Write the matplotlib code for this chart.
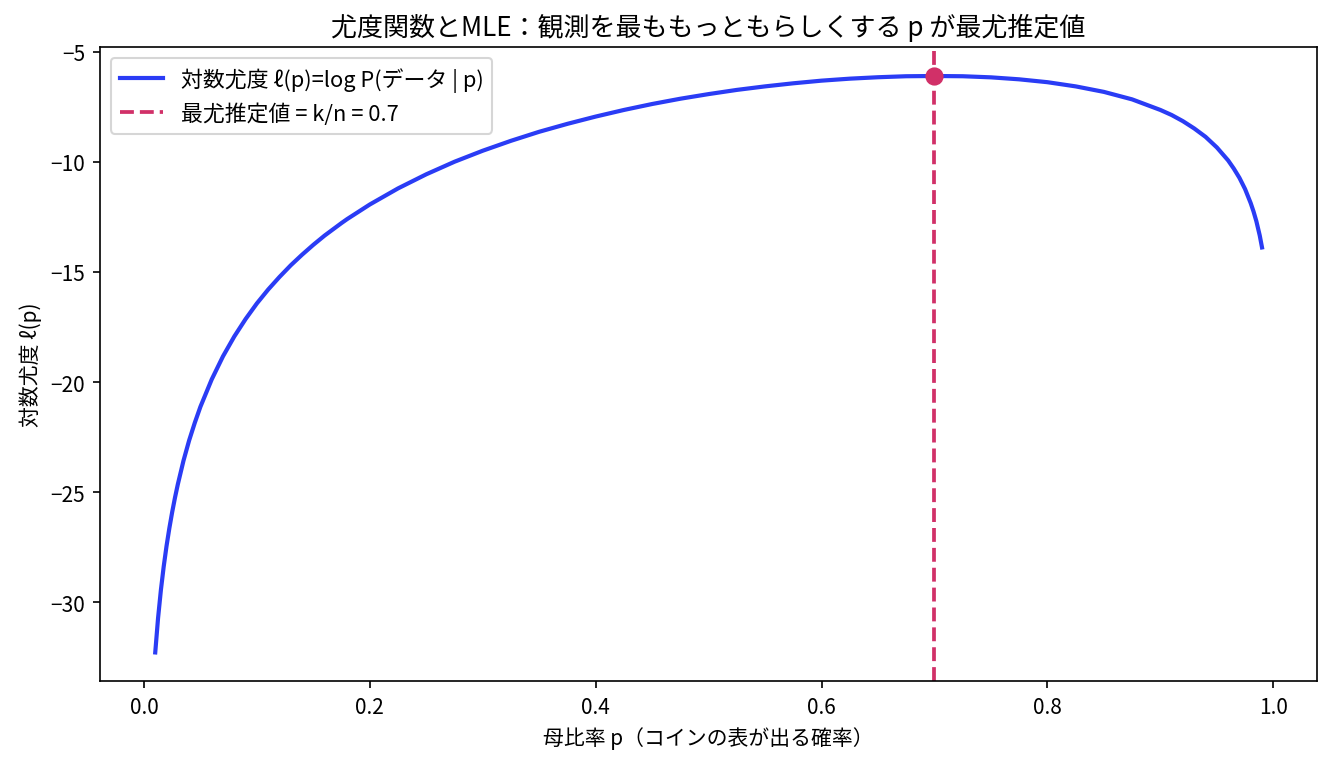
import matplotlib
matplotlib.use("Agg")
import matplotlib.pyplot as plt

plt.rcParams['font.family'] = ['Noto Sans CJK JP', 'DejaVu Sans']
plt.rcParams['axes.unicode_minus'] = True

# p values and log-likelihood values
p_vals = [0.01, 0.0125, 0.015, 0.0175, 0.02, 0.0225, 0.025, 0.0275, 0.03, 0.035,
          0.04, 0.045, 0.05, 0.06, 0.07, 0.08, 0.09, 0.10, 0.11, 0.12, 0.13, 0.14,
          0.15, 0.16, 0.175, 0.18, 0.20, 0.225, 0.25, 0.275, 0.30, 0.325, 0.35,
          0.375, 0.40, 0.425, 0.45, 0.475, 0.50, 0.525, 0.55, 0.575, 0.60, 0.625,
          0.65, 0.675, 0.70, 0.725, 0.75, 0.775, 0.80, 0.825, 0.85, 0.875, 0.90,
          0.91, 0.92, 0.93, 0.94, 0.95, 0.96, 0.965, 0.97, 0.975, 0.98, 0.9825,
          0.985, 0.988, 0.99]
ll_vals = [-32.27, -30.71, -29.44, -28.37, -27.44, -26.63, -25.90, -25.24, -24.64,
           -23.57, -22.65, -21.85, -21.12, -19.88, -18.83, -17.93, -17.14, -16.43,
           -15.80, -15.23, -14.70, -14.22, -13.77, -13.35, -12.78, -12.60, -11.94,
           -11.21, -10.57, -10.00, -9.50, -9.05, -8.64, -8.28, -7.95, -7.65, -7.38,
           -7.14, -6.93, -6.74, -6.58, -6.44, -6.32, -6.23, -6.165, -6.12, -6.109,
           -6.12, -6.17, -6.26, -6.39, -6.58, -6.83, -7.17, -7.65, -7.88, -8.16,
           -8.49, -8.87, -9.35, -9.94, -10.31, -10.73, -11.24, -11.88, -12.26,
           -12.70, -13.35, -13.89]
mle_p = 0.7
mle_ll = -6.109

fig, ax = plt.subplots(figsize=(8.88, 5.093), dpi=150)
ax.plot(p_vals, ll_vals, color='#2a3cf5', lw=2.0,
        label='対数尤度 ℓ(p)=log P(データ | p)')
ax.axvline(mle_p, color='#d13068', ls='--', lw=1.8,
           label='最尤推定値 = k/n = 0.7')
ax.scatter([mle_p], [mle_ll], color='#d13068', s=60, zorder=5)

ax.set_title('尤度関数とMLE：観測を最ももっともらしくする p が最尤推定値', fontsize=12.5)
ax.set_xlabel('母比率 p（コインの表が出る確率）', fontsize=10)
ax.set_ylabel('対数尤度 ℓ(p)', fontsize=10)
ax.tick_params(labelsize=10)
ax.legend(loc='upper left', fontsize=10.5)

fig.subplots_adjust(left=0.075, right=0.989, top=0.937, bottom=0.107)
fig.savefig('out.png', dpi=150)
